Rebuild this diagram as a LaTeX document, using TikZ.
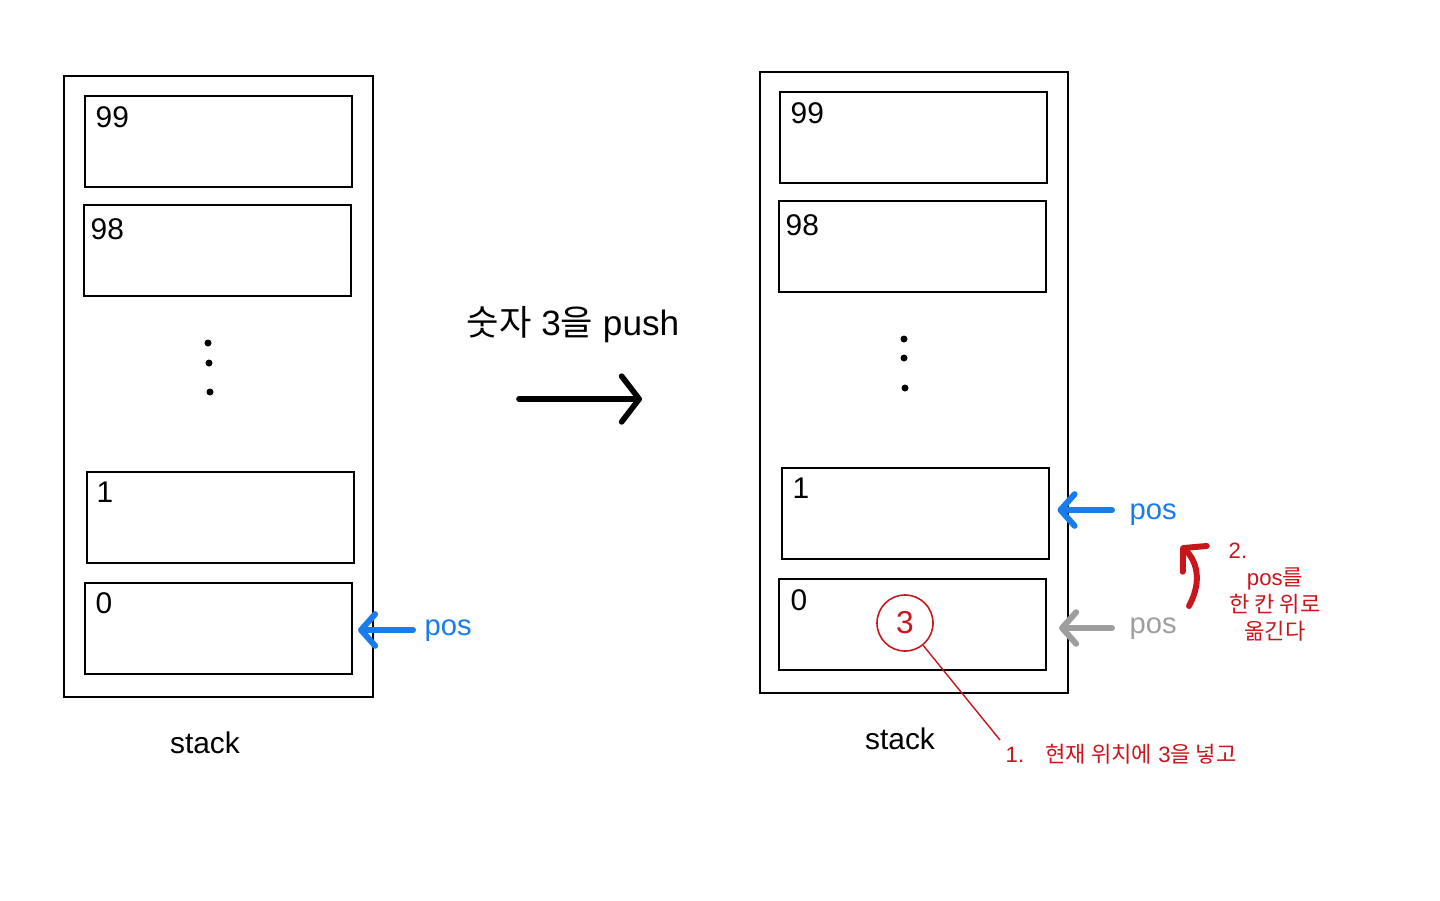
\documentclass[tikz,border=0pt]{standalone}
\usepackage{fontspec}
\setmainfont{Liberation Sans}
\newfontfamily\kr{Noto Sans CJK KR}
\usetikzlibrary{arrows.meta}
\definecolor{posblue}{RGB}{24,124,236}
\definecolor{posgray}{RGB}{158,158,158}
\definecolor{notered}{RGB}{200,22,28}
\tikzset{
  outerbox/.style={draw, line width=0.6pt, minimum width=3.08cm, minimum height=6.21cm, inner sep=0pt},
  cellbox/.style={draw, line width=0.6pt, minimum width=2.67cm, minimum height=0.91cm, inner sep=0pt},
  celltxt/.style={anchor=base west, inner sep=0pt, font=\fontsize{8.5}{10}\selectfont},
  stacktxt/.style={anchor=base, inner sep=0pt, font=\fontsize{8.5}{10}\selectfont},
  postxt/.style={anchor=base west, inner sep=0pt, font=\fontsize{8.3}{10}\selectfont},
  dotmark/.style={fill=black, circle, inner sep=0pt, minimum size=0.07cm},
  posarrow/.style={line width=1.7pt, line cap=round, -{Straight Barb[length=4pt,width=9pt,round]}},
  bigarrow/.style={line width=1.6pt, line cap=round, -{Straight Barb[length=5pt,width=13pt,round]}},
  redtxt/.style={inner sep=0pt, text=notered, font=\fontsize{6.3}{7.7}\selectfont},
}
\begin{document}
\begin{tikzpicture}[x=0.01cm, y=-0.01cm]
\useasboundingbox (0,0) rectangle (1440,900);
% ---------- left stack ----------
\node[outerbox] (Lstack) at (218.5,386.5) {};
\node[cellbox] (L99) at (218.5,141.5) {};
\node[cellbox] (L98) at (217.5,250.5) {};
\node[cellbox] (L1) at (220.5,517.5) {};
\node[cellbox] (L0) at (218.5,628.5) {};
\node[celltxt] (tL99) at (95,127) {99};
\node[celltxt] (tL98) at (90,239) {98};
\node[celltxt] (tL1) at (96,502) {1};
\node[celltxt] (tL0) at (95,613) {0};
\node[dotmark] (dL1) at (208,343) {};
\node[dotmark] (dL2) at (209,363) {};
\node[dotmark] (dL3) at (210,392) {};
\node[stacktxt] (sL) at (205,753) {stack};
\node[postxt, text=posblue] (posL) at (424,635) {pos};
\coordinate (aL) at (413,630);
\draw[posarrow, posblue, shorten >=1.4pt] (aL) -- (L0.east |- aL);
% ---------- middle ----------
\node[anchor=base, inner sep=0pt, font=\fontsize{10}{12}\selectfont] (title) at (573,335) {{\kr 숫자} 3{\kr 을} push};
\coordinate (g1) at (519,399);
\coordinate (g2) at (642,399);
\draw[bigarrow] (g1) -- (g2);
% ---------- right stack ----------
\node[outerbox] (Rstack) at (914,382.5) {};
\node[cellbox] (R99) at (913.5,137.5) {};
\node[cellbox] (R98) at (912.5,246.5) {};
\node[cellbox] (R1) at (915.5,513.5) {};
\node[cellbox] (R0) at (912.5,624.5) {};
\node[celltxt] (tR99) at (790,123) {99};
\node[celltxt] (tR98) at (785,235) {98};
\node[celltxt] (tR1) at (792,498) {1};
\node[celltxt] (tR0) at (790,610) {0};
\node[dotmark] (dR1) at (904,339) {};
\node[dotmark] (dR2) at (904,358) {};
\node[dotmark] (dR3) at (905,388) {};
\node[stacktxt] (sR) at (900,749) {stack};
\node[postxt, text=posblue] (posR) at (1129,519) {pos};
\coordinate (aR) at (1112,510);
\draw[posarrow, posblue, shorten >=2.1pt] (aR) -- (R1.east |- aR);
\node[postxt, text=posgray] (posG) at (1129,633) {pos};
\coordinate (aG) at (1112,628);
\draw[posarrow, posgray, shorten >=3.4pt] (aG) -- (R0.east |- aG);
% ---------- annotations ----------
\node[draw=notered, line width=0.45pt, circle, minimum size=0.56cm, inner sep=0pt, text=notered, font=\fontsize{9}{10}\selectfont] (c3) at (905,623) {3};
\coordinate (n1) at (1000,740);
\draw[notered, line width=0.4pt] (c3) -- (n1);
\node[redtxt, anchor=base west] (step1) at (1005,762) {1.\hspace{6pt}{\kr 현재 위치에} 3{\kr 을 넣고}};
\coordinate (r1) at (1189,606);
\coordinate (r2) at (1181,546);
\draw[notered, line width=1.7pt, line cap=round, -{Straight Barb[length=4.5pt,width=10pt,round]}] (r1) .. controls (1203,580) and (1196,560) .. (r2);
\node[redtxt, anchor=base west] (step2) at (1228,558) {2.};
\node[redtxt, anchor=base] (step2a) at (1275,585) {pos{\kr 를}};
\node[redtxt, anchor=base] (step2b) at (1275,612) {\kr 한 칸 위로};
\node[redtxt, anchor=base] (step2c) at (1275,639) {\kr 옮긴다};
\end{tikzpicture}
\end{document}
